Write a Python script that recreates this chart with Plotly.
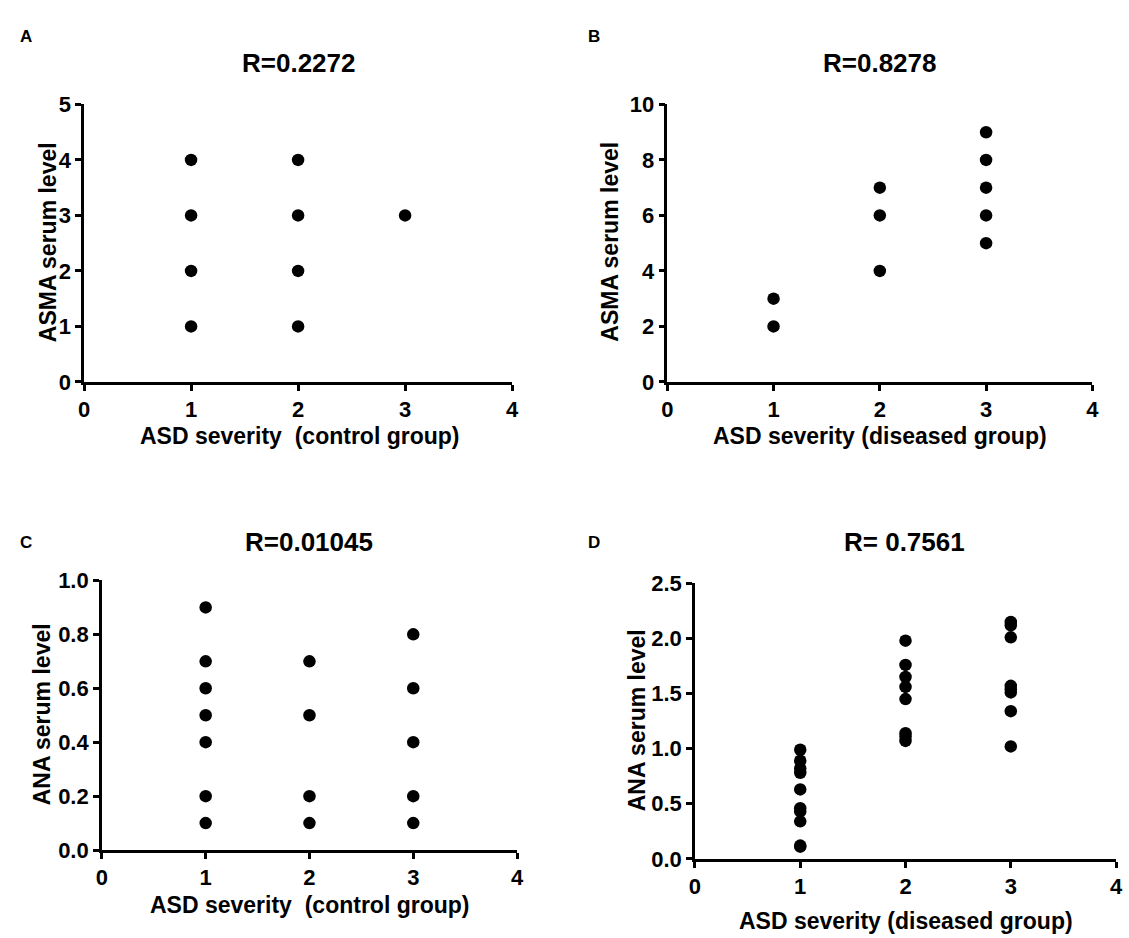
import plotly.graph_objects as go

# Panel A: ASMA vs ASD severity (control)
a_x = [1, 1, 1, 1, 2, 2, 2, 2, 3]
a_y = [4, 3, 2, 1, 4, 3, 2, 1, 3]
# Panel B: ASMA vs ASD severity (diseased)
b_x = [1, 1, 2, 2, 2, 3, 3, 3, 3, 3]
b_y = [3, 2, 7, 6, 4, 9, 8, 7, 6, 5]
# Panel C: ANA vs ASD severity (control)
c_x = [1, 1, 1, 1, 1, 1, 1, 2, 2, 2, 2, 3, 3, 3, 3, 3]
c_y = [0.9, 0.7, 0.6, 0.5, 0.4, 0.2, 0.1, 0.7, 0.5, 0.2, 0.1, 0.8, 0.6, 0.4, 0.2, 0.1]
# Panel D: ANA vs ASD severity (diseased)
d_x = [1] * 10 + [2] * 8 + [3] * 8
d_y = [0.99, 0.89, 0.82, 0.78, 0.63, 0.46, 0.43, 0.34, 0.12, 0.11,
       1.98, 1.76, 1.65, 1.56, 1.45, 1.14, 1.11, 1.07,
       2.15, 2.12, 2.01, 1.57, 1.54, 1.51, 1.34, 1.02]

titles = ["R=0.2272", "R=0.8278", "R=0.01045", "R= 0.7561"]
letters = ["A", "B", "C", "D"]
xtitles = ["ASD severity\u00a0\u00a0(control group)", "ASD severity (diseased group)",
           "ASD severity\u00a0\u00a0(control group)", "ASD severity (diseased group)"]
ytitles = ["ASMA serum level", "ASMA serum level", "ANA serum level", "ANA serum level"]
x_ticks = [0, 1, 2, 3, 4]
y_ticks_a = [0, 1, 2, 3, 4, 5]
y_ticks_b = [0, 2, 4, 6, 8, 10]
y_ticks_c = [0.0, 0.2, 0.4, 0.6, 0.8, 1.0]
y_ticks_d = [0.0, 0.5, 1.0, 1.5, 2.0, 2.5]

W, H = 1129, 938
FONT = "Liberation Sans, Arial, sans-serif"

# plot areas in pixels: (left, right, top, bottom)
boxes = [(79, 512, 95, 380), (669, 1099, 95, 380), (97, 517, 584, 861), (697, 1123, 587, 870)]

fig = go.Figure()
data = [(a_x, a_y), (b_x, b_y), (c_x, c_y), (d_x, d_y)]
yt = [y_ticks_a, y_ticks_b, y_ticks_c, y_ticks_d]
ytext = [[str(v) for v in y_ticks_a], [str(v) for v in y_ticks_b],
         [f"{v:.1f}" for v in y_ticks_c], [f"{v:.1f}" for v in y_ticks_d]]

for i, (xs, ys) in enumerate(data):
    n = "" if i == 0 else str(i + 1)
    fig.add_trace(go.Scatter(x=xs, y=ys, mode="markers", xaxis="x" + n, yaxis="y" + n,
                             marker=dict(color="black", size=12.5, line=dict(width=0)),
                             showlegend=False, cliponaxis=False))
    l, r, t, b = boxes[i]
    axcommon = dict(showgrid=False, zeroline=False, showline=True, linecolor="black",
                    linewidth=2.5, ticks="outside", ticklen=6, tickwidth=2.5, tickcolor="black",
                    tickfont=dict(family=FONT, size=22, color="black", weight="bold"))
    fig.update_layout(**{
        "xaxis" + n: dict(domain=[l / W, r / W], anchor="y" + n, range=[0, 4],
                          tickvals=x_ticks, ticktext=[str(v) for v in x_ticks], **axcommon),
        "yaxis" + n: dict(domain=[1 - b / H, 1 - t / H], anchor="x" + n,
                          range=[yt[i][0], yt[i][-1]], tickvals=yt[i], ticktext=ytext[i],
                          **axcommon),
    })

ann = []
title_pos = [(296, 52), (884, 52), (307, 544), (909, 545)]
letter_pos = [(20, 25), (595, 25), (20, 545), (595, 545)]
xt_pos = [(297, 436), (884, 436), (307, 917), (910, 934)]
yt_pos = [(42, 237), (611, 236), (36, 722), (638, 728)]
for i in range(4):
    ann.append(dict(text="<b>%s</b>" % titles[i], x=title_pos[i][0] / W, y=1 - title_pos[i][1] / H,
                    xref="paper", yref="paper", showarrow=False, xanchor="center", yanchor="middle",
                    font=dict(family=FONT, size=26, color="black")))
    ann.append(dict(text="<b>%s</b>" % letters[i], x=letter_pos[i][0] / W, y=1 - letter_pos[i][1] / H,
                    xref="paper", yref="paper", showarrow=False, xanchor="center", yanchor="middle",
                    font=dict(family=FONT, size=17, color="black")))
    ann.append(dict(text="<b>%s</b>" % xtitles[i], x=xt_pos[i][0] / W, y=1 - xt_pos[i][1] / H,
                    xref="paper", yref="paper", showarrow=False, xanchor="center", yanchor="middle",
                    font=dict(family=FONT, size=23, color="black")))
    ann.append(dict(text="<b>%s</b>" % ytitles[i], x=yt_pos[i][0] / W, y=1 - yt_pos[i][1] / H,
                    xref="paper", yref="paper", showarrow=False, xanchor="center", yanchor="middle",
                    textangle=-90, font=dict(family=FONT, size=23, color="black")))

fig.update_layout(width=W, height=H, margin=dict(l=0, r=0, t=0, b=0),
                  paper_bgcolor="white", plot_bgcolor="white", annotations=ann)

fig.write_html("out.html")
